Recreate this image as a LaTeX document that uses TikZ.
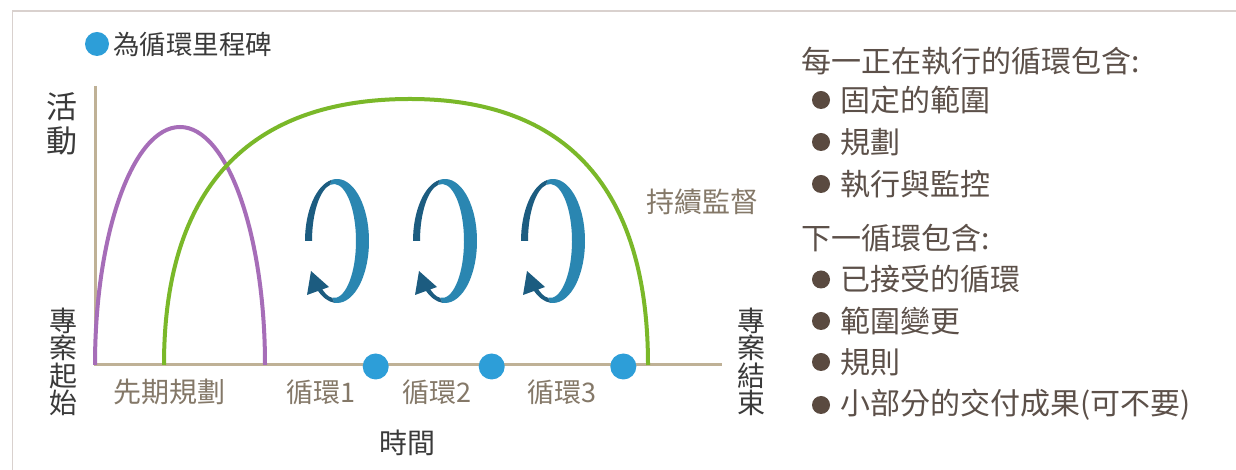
\documentclass[tikz,border=0pt]{standalone}
\usepackage{fontspec}
\newfontfamily\cjk{Noto Sans CJK TC}
\usetikzlibrary{calc}
\definecolor{axiscol}{HTML}{BFB196}
\definecolor{framecol}{HTML}{D9D1CE}
\definecolor{purplecol}{HTML}{A66DB8}
\definecolor{greencol}{HTML}{7AB829}
\definecolor{dotblue}{HTML}{2D9ED8}
\definecolor{ringlight}{HTML}{2A86B1}
\definecolor{ringdark}{HTML}{1C5C80}
\definecolor{labcol}{HTML}{847868}
\definecolor{darkcol}{HTML}{3A3A3A}
\definecolor{listcol}{HTML}{5C5049}
\definecolor{bulletcol}{HTML}{5A4A40}
\newcommand\cyclearrow[2]{%
  \begin{scope}[shift={(#1,229)}]
    \fill[ringlight] (100:32 and 62) arc[start angle=100,end angle=-95,x radius=32,y radius=62]
      -- ([xshift=-3]-95:22 and 57) arc[start angle=-95,end angle=100,x radius=22,y radius=57] -- cycle;
    \fill[ringdark] (180:32 and 62) arc[start angle=180,end angle=100,x radius=32,y radius=62]
      -- ([xshift=-3]100:22 and 57) arc[start angle=100,end angle=180,x radius=22,y radius=57] -- cycle;
    \fill[ringdark] (-95:32 and 62) arc[start angle=-95,end angle=-128,x radius=32,y radius=62]
      -- ([xshift=-3]-128:22 and 57) arc[start angle=-128,end angle=-95,x radius=22,y radius=57] -- cycle;
    \fill[ringdark] (-30,-54) -- (-8,-46) -- (-26,-30) -- cycle;
    \coordinate (#2) at (0,0);
  \end{scope}}
\begin{document}
\begin{tikzpicture}[x=1pt,y=1pt,
  lab/.style={font=\cjk\fontsize{27}{27}\selectfont, text=labcol, inner sep=0},
  darklab/.style={font=\cjk\fontsize{28}{28}\selectfont, text=darkcol, inner sep=0},
  vlab/.style={font=\cjk\fontsize{28}{27.5}\selectfont, text=darkcol, inner sep=0, align=center},
  listtxt/.style={font=\cjk\fontsize{30}{30}\selectfont, text=listcol, inner sep=0, anchor=west},
  bullet/.style={circle, fill=bulletcol, minimum size=18, inner sep=0},
  milestone/.style={circle, fill=dotblue, minimum size=26, inner sep=0},
  axisline/.style={draw=axiscol, line width=3},
  arcline/.style={line width=4}]
\useasboundingbox (0,0) rectangle (1236,470);
\fill[white] (0,0) rectangle (1236,470);
% frame
\coordinate (fb) at (12.7,0);
\coordinate (fc) at (12.7,459);
\coordinate (fr) at (1236,459);
\draw[framecol, line width=1.5] (fb) -- (fc) -- (fr);
% axes
\coordinate (O) at (95,105);
\coordinate (Ytop) at (95,384);
\coordinate (Xend) at (722,105);
\draw[axisline] (Ytop) -- (O) -- (Xend);
% purple planning curve
\draw[arcline, draw=purplecol] (O) arc[start angle=180, end angle=0, x radius=85, y radius=238];
% green monitoring curve
\coordinate (gL) at (164,105);
\coordinate (gT) at (410,371);
\coordinate (gR) at (648,105);
\draw[arcline, draw=greencol] (gL) .. controls (164,281) and (248,371) .. (gT)
  .. controls (567,371) and (648,281) .. (gR);
% milestones
\node[milestone] (m1) at (375.7,103.5) {};
\node[milestone] (m2) at (491.7,103.5) {};
\node[milestone] (m3) at (623.3,103.5) {};
% cycle arrows
\cyclearrow{337}{c1}
\cyclearrow{445}{c2}
\cyclearrow{553}{c3}
% legend
\node[milestone, minimum size=24] (legdot) at (97,426) {};
\node[darklab, font=\cjk\fontsize{26.5}{26.5}\selectfont, anchor=west] (legtxt) at (113,426) {為循環里程碑};
% axis labels
\node[vlab, font=\cjk\fontsize{31}{34}\selectfont] (act) at (62,346) {活\\動};
\node[vlab] (pstart) at (63.5,108) {專\\案\\起\\始};
\node[vlab] (pend) at (751.5,108) {專\\案\\結\\束};
\node[lab, font=\cjk\fontsize{28}{28}\selectfont] (pre) at (169,78) {先期規劃};
\node[lab] (l1) at (321,78) {循環1};
\node[lab] (l2) at (437,78) {循環2};
\node[lab] (l3) at (562,78) {循環3};
\node[darklab] (time) at (407,27) {時間};
\node[lab, font=\cjk\fontsize{28}{28}\selectfont] (mon) at (702,268.5) {持續監督};
% right list
\node[listtxt] (t1) at (801,408.5) {每一正在執行的循環包含:};
\node[bullet] (b1) at (821,370) {};
\node[listtxt] (i1) at (840,370) {固定的範圍};
\node[bullet] (b2) at (821,328) {};
\node[listtxt] (i2) at (840,328) {規劃};
\node[bullet] (b3) at (821,286) {};
\node[listtxt] (i3) at (840,286) {執行與監控};
\node[listtxt] (t2) at (801,232) {下一循環包含:};
\node[bullet] (b4) at (821,190.5) {};
\node[listtxt] (i4) at (840,190.5) {已接受的循環};
\node[bullet] (b5) at (821,149) {};
\node[listtxt] (i5) at (840,149) {範圍變更};
\node[bullet] (b6) at (821,108) {};
\node[listtxt] (i6) at (840,108) {規則};
\node[bullet] (b7) at (821,65) {};
\node[listtxt] (i7) at (840,65) {小部分的交付成果(可不要)};
\end{tikzpicture}
\end{document}
